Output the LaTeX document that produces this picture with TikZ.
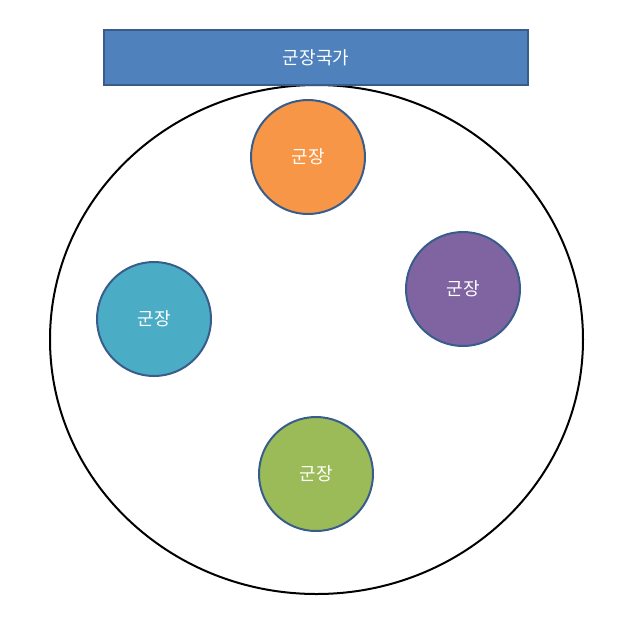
\documentclass[tikz,border=0pt]{standalone}
\usepackage{fontspec}
\setmainfont{Noto Sans CJK KR}
\usetikzlibrary{shapes.geometric}
\definecolor{bord}{HTML}{385D8A}
\definecolor{cblue}{HTML}{4F81BD}
\definecolor{corange}{HTML}{F79646}
\definecolor{cpurple}{HTML}{8064A2}
\definecolor{cteal}{HTML}{4BACC6}
\definecolor{cgreen}{HTML}{9BBB59}
\begin{document}
\begin{tikzpicture}[x=1pt,y=-1pt,
  lord/.style={circle,draw=bord,line width=2pt,minimum size=114pt,inner sep=0pt,text=white,font=\fontsize{18}{20}\selectfont}]
\useasboundingbox (0,0) rectangle (622,633);
\node[ellipse,draw=black,line width=2pt,minimum width=533pt,minimum height=509pt,inner sep=0pt] (state) at (316.5,339.5) {};
\node[rectangle,draw=bord,fill=cblue,line width=1.5pt,minimum width=424pt,minimum height=55pt,inner sep=0pt,text=white,font=\fontsize{18}{20}\selectfont] (title) at (316,57.5) {군장국가};
\node[lord,fill=corange] (a) at (308,157) {군장};
\node[lord,fill=cpurple] (b) at (463,289) {군장};
\node[lord,fill=cteal] (c) at (154,319) {군장};
\node[lord,fill=cgreen] (d) at (316,474) {군장};
\end{tikzpicture}
\end{document}
